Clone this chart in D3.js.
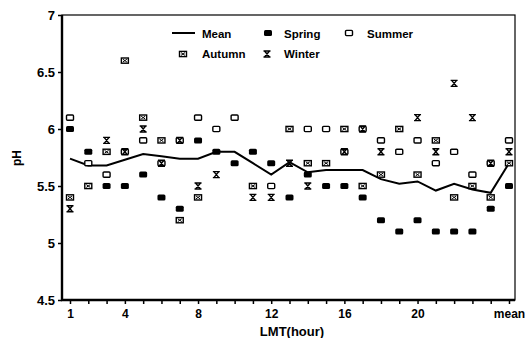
<!DOCTYPE html>
<html>
<head>
<meta charset="utf-8">
<script src="https://cdn.jsdelivr.net/npm/d3@7"></script>
<style>
  body { margin: 0; background: #fff; }
  svg { display: block; font-family: Arial, "Liberation Sans", sans-serif; font-weight: bold; }
</style>
</head>
<body>
<div id="chart"></div>
<script>
// categories (LMT hour) and labels
const hours = ["1","2","3","4","5","6","7","8","9","10","11","12","13","14","15","16","17","18","19","20","21","22","23","24","mean"];
const xLabels = ["1","4","8","12","16","20","mean"];
const yTicks = [4.5, 5, 5.5, 6, 6.5, 7];

// series values (null = not visible)
const meanPH   = [5.74,5.68,5.68,5.73,5.78,5.76,5.74,5.74,5.80,5.80,5.70,5.60,5.71,5.62,5.64,5.64,5.64,5.56,5.52,5.54,5.46,5.52,5.47,5.44,5.70];
const springPH = [6.0,5.8,5.5,5.5,5.6,5.4,5.3,5.9,5.8,5.7,5.8,5.7,5.4,5.6,5.5,5.5,5.4,5.2,5.1,5.2,5.1,5.1,5.1,5.3,5.5];
const summerPH = [6.1,5.7,5.6,5.8,5.9,5.7,5.9,6.1,6.0,6.1,null,5.5,null,6.0,6.0,5.8,6.0,5.9,5.8,5.9,5.7,5.8,5.6,5.7,5.9];
const autumnPH = [5.4,5.5,5.8,6.6,6.1,5.9,5.2,5.4,null,null,5.5,null,6.0,5.7,5.7,6.0,5.5,5.6,6.0,5.6,5.9,5.4,5.5,5.4,5.7];
const winterPH = [5.3,null,5.9,5.8,6.0,5.7,5.9,5.5,5.6,null,5.4,5.4,5.7,5.5,null,5.8,6.0,5.8,null,6.1,5.8,6.4,6.1,5.7,5.8];

const margin = { top: 15, right: 11, bottom: 38, left: 62 };
const width = 526 - margin.left - margin.right;
const height = 338 - margin.top - margin.bottom;

const svg = d3.select('#chart')
  .append('svg')
  .attr('width', 526)
  .attr('height', 338);

const g = svg.append('g')
  .attr('transform', `translate(${margin.left}, ${margin.top})`);

const x = d3.scalePoint().domain(hours).range([8, 447]);
const y = d3.scaleLinear().domain([4.5, 7]).range([height, 0]);

// marker painters
function drawSpring(sel) {
  sel.append('rect')
    .attr('x', -4).attr('y', -3).attr('width', 8).attr('height', 6)
    .attr('rx', 1.5).attr('fill', '#000');
}
function drawSummer(sel) {
  sel.append('rect')
    .attr('x', -3.5).attr('y', -2.6).attr('width', 7).attr('height', 5.2)
    .attr('rx', 1).attr('fill', '#fff').attr('stroke', '#000').attr('stroke-width', 1.4);
}
function drawAutumn(sel) {
  sel.append('rect')
    .attr('x', -3.5).attr('y', -2.6).attr('width', 7).attr('height', 5.2)
    .attr('fill', '#fff').attr('stroke', '#000').attr('stroke-width', 1.4);
  sel.append('path')
    .attr('d', 'M-2,-1.4L2,1.4M2,-1.4L-2,1.4')
    .attr('stroke', '#000').attr('stroke-width', 1);
}
function drawWinter(sel) {
  sel.append('path')
    .attr('d', 'M-3.5,-3H3.5M-3.5,3H3.5M-2.5,-3L2.5,3M2.5,-3L-2.5,3')
    .attr('fill', 'none').attr('stroke', '#000').attr('stroke-width', 1.4);
}

// x-axis
g.append('g')
  .attr('transform', `translate(0, ${height})`)
  .style('font-size', '12px')
  .style('font-weight', 'bold')
  .call(d3.axisBottom(x)
    .tickSize(4)
    .tickSizeOuter(0)
    .tickPadding(5)
    .tickFormat(d => xLabels.includes(d) ? d : ''))
  .call(g => g.select('.domain').remove())
  .call(g => g.selectAll('.tick line').attr('stroke-width', 1.5))
  .selectAll('.tick text')
  .attr('fill', '#000');

// y-axis
g.append('g')
  .style('font-size', '13px')
  .style('font-weight', 'bold')
  .call(d3.axisLeft(y)
    .tickValues(yTicks)
    .tickSize(4)
    .tickPadding(3)
    .tickFormat(d3.format('')))
  .call(g => g.select('.domain').remove())
  .call(g => g.selectAll('.tick line').attr('stroke-width', 1.5))
  .selectAll('.tick text')
  .attr('fill', '#000');

// frame
g.append('rect')
  .attr('width', width)
  .attr('height', height)
  .attr('fill', 'none')
  .attr('stroke', '#000')
  .attr('stroke-width', 1.2);
g.append('path')
  .attr('d', `M0,0V${height}H${width}`)
  .attr('fill', 'none')
  .attr('stroke', '#000')
  .attr('stroke-width', 2.4);

// mean line
const line = d3.line()
  .x((d, i) => x(hours[i]))
  .y(d => y(d));

g.append('path')
  .datum(meanPH)
  .attr('fill', 'none')
  .attr('stroke', '#000')
  .attr('stroke-width', 2)
  .attr('d', line);

// points
const series = [
  { values: summerPH, draw: drawSummer },
  { values: winterPH, draw: drawWinter },
  { values: autumnPH, draw: drawAutumn },
  { values: springPH, draw: drawSpring }
];

series.forEach(s => {
  g.append('g')
    .selectAll('g')
    .data(s.values.map((v, i) => ({ hour: hours[i], v })).filter(d => d.v !== null))
    .join('g')
    .attr('transform', d => `translate(${x(d.hour)}, ${y(d.v)})`)
    .call(s.draw);
});

// legend
const legend = svg.append('g').style('font-size', '11.5px').style('font-weight', 'bold');
legend.append('line')
  .attr('x1', 172).attr('x2', 195).attr('y1', 33).attr('y2', 33)
  .attr('stroke', '#000').attr('stroke-width', 2);
const legendItems = [
  { label: 'Mean', tx: 202, ty: 37.5 },
  { label: 'Spring', mx: 268, my: 33, tx: 284, ty: 37.5, draw: drawSpring },
  { label: 'Summer', mx: 349, my: 33, tx: 367, ty: 37.5, draw: drawSummer },
  { label: 'Autumn', mx: 183, my: 54, tx: 202, ty: 58, draw: drawAutumn },
  { label: 'Winter', mx: 267, my: 54, tx: 284, ty: 58, draw: drawWinter }
];
legendItems.forEach(it => {
  if (it.draw) {
    legend.append('g').attr('transform', `translate(${it.mx}, ${it.my})`).call(it.draw);
  }
  legend.append('text').attr('x', it.tx).attr('y', it.ty).text(it.label);
});

// axis titles
svg.append('text')
  .attr('x', 292)
  .attr('y', 336)
  .attr('text-anchor', 'middle')
  .style('font-size', '13px')
  .style('font-weight', 'bold')
  .text('LMT(hour)');

svg.append('text')
  .attr('transform', 'translate(21, 158) rotate(-90)')
  .attr('text-anchor', 'middle')
  .style('font-size', '12px')
  .style('font-weight', 'bold')
  .text('pH');
</script>
</body>
</html>
